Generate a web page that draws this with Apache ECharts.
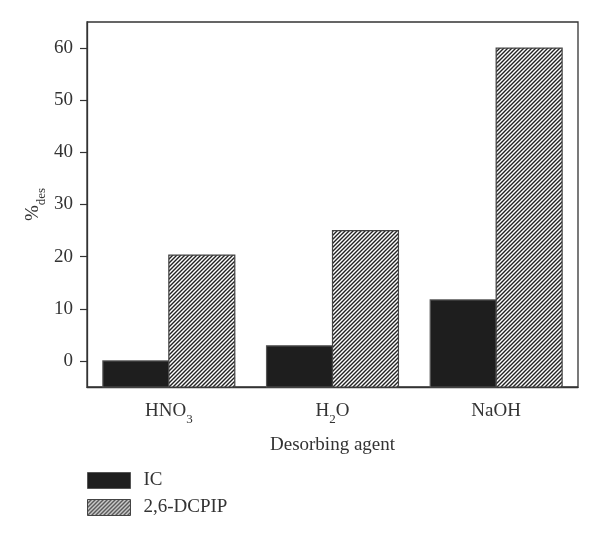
<!DOCTYPE html>
<html>
<head>
<meta charset="utf-8">
<script src="https://cdn.jsdelivr.net/npm/echarts@6/dist/echarts.min.js"></script>
<style>html,body{margin:0;padding:0;background:#fff;}#c{width:600px;height:538px;}</style>
</head>
<body>
<div id="c"></div>
<script>
const categories = ['HNO3', 'H2O', 'NaOH'];
const categoryLabels = ['{a|HNO}{s|3}', '{a|H}{s|2}{a|O}', '{a|NaOH}'];
const icValues = [0, 2.9, 11.7];
const dcpipValues = [20.3, 25.0, 60.0];
const yTicks = [0, 10, 20, 30, 40, 50, 60];
const yMin = -5, yMax = 65;

const FONT = '"Liberation Serif", "DejaVu Serif", serif';
const TXT = '#333';
const FS = 19, SFS = 13;

// hatch pattern
const pc = document.createElement('canvas');
pc.width = 4; pc.height = 4;
const g = pc.getContext('2d');
g.fillStyle = '#fff'; g.fillRect(0, 0, 4, 4);
g.strokeStyle = '#222'; g.lineWidth = 1.4;
g.beginPath();
g.moveTo(-1, 5); g.lineTo(5, -1);
g.moveTo(-3, 3); g.lineTo(3, -3);
g.moveTo(1, 7); g.lineTo(7, 1);
g.stroke();
const hatch = { image: pc, repeat: 'repeat' };

const BAR_FRAC = 0.403;
function makeRender(side, fill, stroke) {
  return function (params, api) {
    const ci = api.value(0), v = api.value(1);
    const top = api.coord([ci, v]);
    const bot = api.coord([ci, yMin]);
    const band = api.size([1, 0])[0];
    const w = band * BAR_FRAC;
    const x = side < 0 ? top[0] - w : top[0];
    return {
      type: 'rect',
      shape: { x: x, y: top[1], width: w, height: bot[1] - top[1] },
      style: { fill: fill, stroke: stroke, lineWidth: 1.2 }
    };
  };
}

const richSub = {
  a: { fontFamily: FONT, fontSize: FS, color: TXT, lineHeight: 22, verticalAlign: 'bottom' },
  s: { fontFamily: FONT, fontSize: SFS, color: TXT, lineHeight: 22, verticalAlign: 'bottom', padding: [0, 0, -5, 0] }
};

const chart = echarts.init(document.getElementById('c'), null, { renderer: 'canvas' });
chart.setOption({
  animation: false,
  backgroundColor: '#fff',
  grid: { left: 87, right: 22, top: 22, bottom: 151, show: true, borderColor: '#333', borderWidth: 1.3 },
  legend: {
    orient: 'vertical', left: 87, top: 471, padding: 0, itemWidth: 43, itemHeight: 16, itemGap: 8,
    textStyle: { fontFamily: FONT, fontSize: FS, color: TXT, padding: [0, 0, 0, 8] },
    data: [
      { name: 'IC', icon: 'rect', itemStyle: { color: '#1e1e1e', borderColor: '#555', borderWidth: 1 } },
      { name: '2,6-DCPIP', icon: 'rect', itemStyle: { color: hatch, borderColor: '#444', borderWidth: 1 } }
    ]
  },
  xAxis: {
    type: 'category', data: categories,
    name: 'Desorbing agent', nameLocation: 'middle', nameGap: 49, nameMoveOverlap: false,
    nameTextStyle: { fontFamily: FONT, fontSize: FS, color: TXT },
    axisLine: { onZero: false, lineStyle: { color: '#333', width: 1.3 } },
    axisTick: { alignWithLabel: true, length: 7, lineStyle: { color: '#333', width: 1.2 } },
    axisLabel: {
      margin: 12, color: TXT,
      formatter: function (v, i) { return categoryLabels[i]; },
      rich: richSub
    },
    splitLine: { show: false }
  },
  yAxis: {
    type: 'value', min: yMin, max: yMax,
    name: '{a|%}{s|des}', nameLocation: 'middle', nameGap: 44, nameMoveOverlap: false,
    nameTextStyle: { rich: richSub },
    axisLine: { show: true, lineStyle: { color: '#333', width: 1.3 } },
    axisTick: { show: true, length: 7, customValues: yTicks, lineStyle: { color: '#333', width: 1.2 } },
    axisLabel: { customValues: yTicks, margin: 14, fontFamily: FONT, fontSize: FS, color: TXT },
    splitLine: { show: false }
  },
  series: [
    {
      name: 'IC', type: 'custom', itemStyle: { color: '#1e1e1e' },
      renderItem: makeRender(-1, '#1e1e1e', '#555'),
      encode: { x: 0, y: 1 },
      data: icValues.map(function (v, i) { return [i, v]; })
    },
    {
      name: '2,6-DCPIP', type: 'custom', itemStyle: { color: '#888' },
      renderItem: makeRender(1, hatch, '#444'),
      encode: { x: 0, y: 1 },
      data: dcpipValues.map(function (v, i) { return [i, v]; })
    }
  ]
});
</script>
</body>
</html>
